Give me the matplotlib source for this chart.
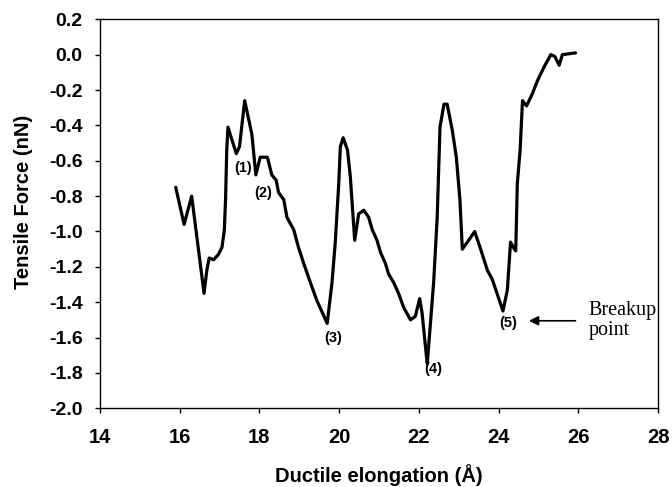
import matplotlib
matplotlib.use("Agg")
import matplotlib.pyplot as plt

elongation = [15.90, 16.11, 16.30, 16.61, 16.68, 16.74, 16.85, 16.97, 17.06, 17.12,
              17.15, 17.18, 17.21, 17.42, 17.50, 17.63, 17.81, 17.91, 18.02, 18.20,
              18.31, 18.42, 18.48, 18.61, 18.69, 18.86, 18.98, 19.11, 19.28, 19.44,
              19.70, 19.82, 19.90, 19.99, 20.03, 20.10, 20.21, 20.28, 20.39, 20.49,
              20.62, 20.74, 20.83, 20.95, 21.04, 21.16, 21.24, 21.37, 21.49, 21.62,
              21.79, 21.91, 22.02, 22.08, 22.21, 22.29, 22.37, 22.46, 22.53, 22.63,
              22.71, 22.84, 22.94, 23.03, 23.09, 23.25, 23.40, 23.55, 23.72, 23.84,
              24.11, 24.22, 24.30, 24.37, 24.43, 24.47, 24.54, 24.60, 24.70, 24.85,
              24.97, 25.14, 25.31, 25.41, 25.52, 25.60, 25.93]
force = [-0.75, -0.96, -0.80, -1.35, -1.22, -1.15, -1.16, -1.13, -1.09, -0.99,
         -0.82, -0.54, -0.41, -0.56, -0.52, -0.26, -0.45, -0.68, -0.58, -0.58,
         -0.68, -0.71, -0.78, -0.82, -0.92, -0.99, -1.09, -1.18, -1.29, -1.39,
         -1.52, -1.29, -1.07, -0.73, -0.52, -0.47, -0.54, -0.69, -1.05, -0.90,
         -0.88, -0.92, -0.99, -1.05, -1.12, -1.18, -1.24, -1.29, -1.35, -1.43,
         -1.50, -1.48, -1.38, -1.46, -1.75, -1.52, -1.29, -0.92, -0.41, -0.28,
         -0.28, -0.43, -0.58, -0.82, -1.10, -1.05, -1.00, -1.10, -1.22, -1.27,
         -1.45, -1.33, -1.06, -1.09, -1.11, -0.73, -0.54, -0.26, -0.29, -0.22,
         -0.15, -0.07, 0.00, -0.01, -0.06, 0.00, 0.01]

labels = ["(1)", "(2)", "(3)", "(4)", "(5)"]
label_x = [17.60, 18.10, 19.85, 22.37, 24.24]
label_y = [-0.64, -0.78, -1.60, -1.78, -1.52]

x_ticks = [14, 16, 18, 20, 22, 24, 26, 28]
y_ticks = [0.2, 0.0, -0.2, -0.4, -0.6, -0.8, -1.0, -1.2, -1.4, -1.6, -1.8, -2.0]

plt.rcParams['font.family'] = ['Liberation Sans', 'DejaVu Sans']

fig = plt.figure(figsize=(6.72, 4.87), dpi=100)
ax = fig.add_axes([0.1488, 0.1616, 0.9792 - 0.1488, 0.9604 - 0.1616])

ax.plot(elongation, force, color='black', lw=2.3, solid_joinstyle='round',
        solid_capstyle='round')

ax.set_xlim(14, 28)
ax.set_ylim(-2.0, 0.2)
ax.set_xticks(x_ticks)
ax.set_yticks(y_ticks)
ax.set_xticklabels([str(v) for v in x_ticks], fontsize=14.5, fontweight='bold')
ax.set_yticklabels([f"{v:.1f}" for v in y_ticks], fontsize=14, fontweight='bold')
ax.tick_params(direction='out', length=3.5, width=1)
ax.tick_params(axis='x', pad=11)
ax.tick_params(axis='y', pad=9)

for s in ax.spines.values():
    s.set_linewidth(1.0)

ax.set_xlabel("Ductile elongation (Å)", fontsize=14.5, fontweight='bold', labelpad=12)
ax.set_ylabel("Tensile Force (nN)", fontsize=14.5, fontweight='bold', labelpad=9)
ax.yaxis.set_label_coords(-0.12, 0.53)

for t, x, y in zip(labels, label_x, label_y):
    ax.text(x, y, t, fontsize=10.5, fontweight='bold', ha='center', va='center')

ax.annotate("", xy=(24.76, -1.505), xytext=(25.93, -1.505),
            arrowprops=dict(arrowstyle='-|>', color='black', lw=1.2,
                            mutation_scale=14, shrinkA=0, shrinkB=0))
ax.text(26.25, -1.505, "Breakup\npoint", fontsize=14.5, family='Liberation Serif',
        ha='left', va='center', linespacing=1.1)

fig.savefig("out.png", dpi=100)
